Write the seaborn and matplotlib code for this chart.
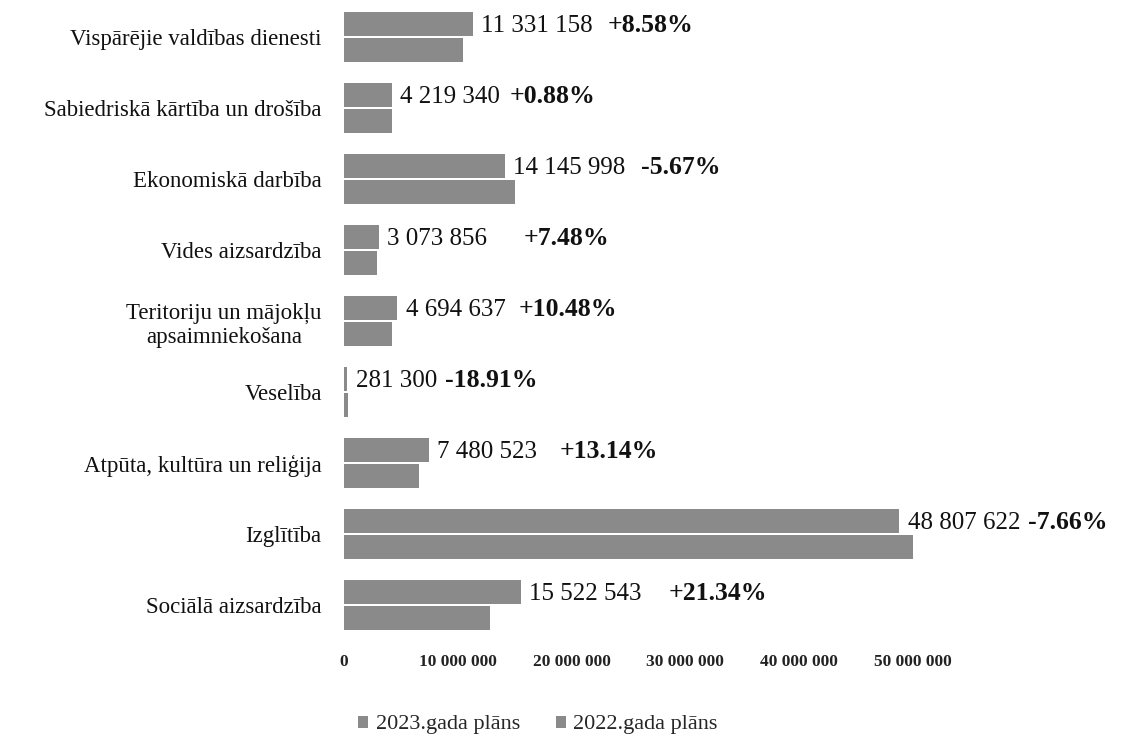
import matplotlib
matplotlib.use("Agg")
import matplotlib.pyplot as plt
import matplotlib.ticker as mticker
from matplotlib.patches import Patch
import seaborn as sns
import pandas as pd

categories = [
    "Vispārējie valdības dienesti",
    "Sabiedriskā kārtība un drošība",
    "Ekonomiskā darbība",
    "Vides aizsardzība",
    "Teritoriju un mājokļu\napsaimniekošana",
    "Veselība",
    "Atpūta, kultūra un reliģija",
    "Izglītība",
    "Sociālā aizsardzība",
]
plan_2023 = [11331158, 4219340, 14145998, 3073856, 4694637, 281300, 7480523, 48807622, 15522543]
plan_2022 = [10435769, 4182534, 14996287, 2859933, 4249309, 346899, 6611740, 52856424, 12792602]
value_labels = ["11 331 158", "4 219 340", "14 145 998", "3 073 856", "4 694 637",
                "281 300", "7 480 523", "48 807 622", "15 522 543"]
pct_labels = ["+8.58%", "+0.88%", "-5.67%", "+7.48%", "+10.48%",
              "-18.91%", "+13.14%", "-7.66%", "+21.34%"]
series_names = ["2023.gada plāns", "2022.gada plāns"]
xtick_values = [0, 10000000, 20000000, 30000000, 40000000, 50000000]

# gaps (px) between value label and percentage label, as placed in the original
pct_gaps_px = [15, 9, 15, 36, 13, 8, 22, 8, 27]

df = pd.DataFrame({
    "cat": categories * 2,
    "val": plan_2023 + plan_2022,
    "series": [series_names[0]] * len(categories) + [series_names[1]] * len(categories),
})

sns.set_theme(style="white")
SERIF = "Liberation Serif"
plt.rcParams["font.family"] = SERIF

fig = plt.figure(figsize=(11.21, 7.47), dpi=100)
ax = fig.add_axes([344 / 1121, 1 - 640.5 / 747, (913 - 344) / 1121, 639 / 747])

bar_color = "#8a8a8a"
sns.barplot(data=df, y="cat", x="val", hue="series", orient="h",
            palette=[bar_color, bar_color], width=0.72, gap=0.06,
            order=categories, hue_order=series_names, legend=False, ax=ax,
            edgecolor="none", linewidth=0)

ax.set_xlim(0, 50000000)
ax.set_ylim(len(categories) - 0.5, -0.5)
ax.set_xticks(xtick_values)
ax.xaxis.set_major_formatter(mticker.FuncFormatter(lambda v, p: f"{int(v):,}".replace(",", " ")))
ax.set_xlabel("")
ax.set_ylabel("")
for s in ax.spines.values():
    s.set_visible(False)
ax.tick_params(axis="x", length=0, pad=10, labelsize=12.5)
ax.tick_params(axis="y", length=0, pad=16, labelsize=16.5)
for lab in ax.get_yticklabels():
    lab.set_multialignment("center")
    lab.set_color("#111111")
for lab in ax.get_xticklabels():
    lab.set_fontweight("bold")
    lab.set_color("#222222")

bars_2023 = ax.containers[0]
for i, bar in enumerate(bars_2023):
    yc = bar.get_y() + bar.get_height() / 2
    xe = min(bar.get_width(), 50000000)
    t = ax.annotate(value_labels[i], xy=(xe, yc), xytext=(6, -1), textcoords="offset points",
                    ha="left", va="center", fontsize=18, family=SERIF, color="#111111",
                    annotation_clip=False)
    ax.annotate(pct_labels[i], xy=(1, 0.5), xycoords=t,
                xytext=(pct_gaps_px[i] * 0.72, 0), textcoords="offset points",
                ha="left", va="center", fontsize=18.5, family=SERIF, fontweight="bold",
                color="#111111", annotation_clip=False)

handles = [Patch(facecolor=bar_color, edgecolor="none", label=n) for n in series_names]
fig.legend(handles=handles, loc="center", bbox_to_anchor=(538 / 1121, 1 - 725 / 747),
           ncol=2, frameon=False, handlelength=0.45, handleheight=0.45,
           handletextpad=0.35, columnspacing=1.6, prop={"family": SERIF, "size": 16})

fig.savefig("out.png", dpi=100)
